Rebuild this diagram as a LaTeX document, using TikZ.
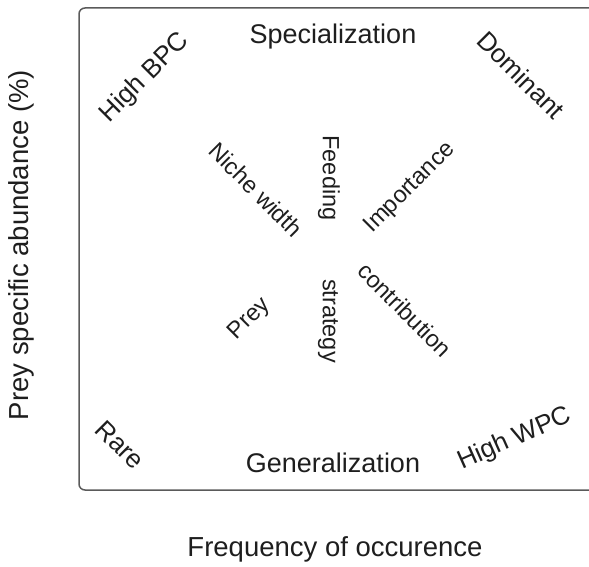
\documentclass[tikz,border=0pt]{standalone}
\usepackage{fontspec}
\setmainfont{Liberation Sans}
\usepackage{tikz}
\usetikzlibrary{positioning}
\definecolor{ink}{HTML}{1E1E1E}
\definecolor{frame}{HTML}{5A5A5A}
\tikzset{axl/.style={text=ink,inner sep=0pt,font=\fontsize{27.5}{30}\selectfont},
  side/.style={text=ink,inner sep=0pt,font=\fontsize{27}{30}\selectfont},
  cw/.style={text=ink,inner sep=0pt,font=\fontsize{26}{29}\selectfont},
  inw/.style={text=ink,inner sep=0pt,font=\fontsize{23.5}{26}\selectfont}}
\begin{document}
\begin{tikzpicture}[x=1pt,y=-1pt]
\clip (0,0) rectangle (589,567);
\draw[frame,line width=1.5pt,rounded corners=6pt] (79,8) rectangle (610,490);
% axis labels
\node[axl,rotate=90] (ylab) at (21,245) {Prey specific abundance (\%)};
\node[axl] (xlab) at (335,549) {Frequency of occurence};
% top and bottom
\node[side] (spec) at (333,37) {Specialization};
\node[side] (gen) at (333,463) {Generalization};
% corners
\node[cw,rotate=45] (hbpc) at (145,78) {High BPC};
\node[cw,rotate=-45] (dom) at (521,75) {Dominant};
\node[cw,rotate=-45] (rare) at (120,445) {Rare};
\node[cw,rotate=24] (hwpc) at (515,439) {High WPC};
% inner words
\node[inw,rotate=-45] (niche) at (256,190) {Niche width};
\node[inw,rotate=-90] (feed) at (329,178) {Feeding};
\node[inw,rotate=45] (imp) at (410,188) {Importance};
\node[inw,rotate=45] (prey) at (250,319) {Prey};
\node[inw,rotate=-90] (strat) at (328,321) {strategy};
\node[inw,rotate=-45] (contr) at (405,310) {contribution};
\end{tikzpicture}
\end{document}
